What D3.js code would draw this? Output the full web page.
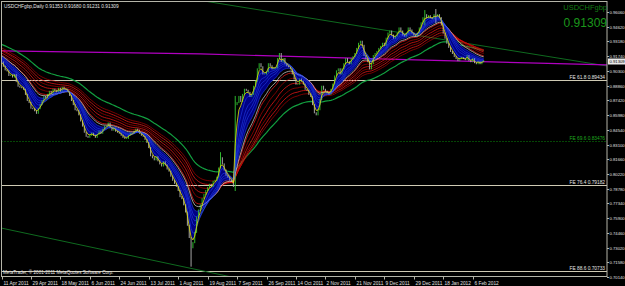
<!DOCTYPE html>
<html>
<head>
<meta charset="utf-8">
<script src="https://cdn.jsdelivr.net/npm/d3@7"></script>
<style>
  html, body { margin: 0; padding: 0; background: #000; }
  svg { display: block; font-family: 'Liberation Sans', Arial, sans-serif; }
</style>
</head>
<body>
<div id="app"></div>
<script>
// chart header
const symbol = 'USDCHFgbp'
const timeframe = 'Daily'
const headerOHLC = ['0.91353', '0.91680', '0.91231', '0.91309']
const lastPrice = 0.91309

// daily closes, bar 0 = 11 Apr 2011 (sunday bars included)
const closes = [
  0.9118, 0.9075, 0.9040, 0.9030, 0.8985, 0.8990, 0.8970, 0.8995, 0.8925, 0.8880,
  0.8870, 0.8865, 0.8850, 0.8800, 0.8740, 0.8720, 0.8665, 0.8660, 0.8640, 0.8615,
  0.8660, 0.8700, 0.8740, 0.8780, 0.8765, 0.8800, 0.8830, 0.8810, 0.8850, 0.8840,
  0.8825, 0.8860, 0.8830, 0.8870, 0.8855, 0.8850, 0.8830, 0.8790, 0.8740, 0.8700,
  0.8650, 0.8640, 0.8600, 0.8540, 0.8490, 0.8430, 0.8390, 0.8380, 0.8400, 0.8420,
  0.8400, 0.8380, 0.8410, 0.8440, 0.8420, 0.8460, 0.8490, 0.8490, 0.8520, 0.8480,
  0.8450, 0.8470, 0.8440, 0.8430, 0.8420, 0.8400, 0.8380, 0.8370, 0.8370, 0.8400,
  0.8420, 0.8420, 0.8440, 0.8460, 0.8450, 0.8420, 0.8400, 0.8390, 0.8360, 0.8330,
  0.8280, 0.8200, 0.8180, 0.8160, 0.8190, 0.8150, 0.8120, 0.8100, 0.8140, 0.8110,
  0.8070, 0.8050, 0.8000, 0.7960, 0.7930, 0.7900, 0.7860, 0.7800, 0.7780, 0.7720,
  0.7650, 0.7520, 0.7400, 0.7300, 0.7350, 0.7450, 0.7600, 0.7670, 0.7720, 0.7780,
  0.7820, 0.7860, 0.7890, 0.7920, 0.7900, 0.7950, 0.7960, 0.7990, 0.8080, 0.8180,
  0.8120, 0.8060, 0.8010, 0.7990, 0.7960, 0.7950, 0.7900, 0.8700, 0.8720, 0.8780,
  0.8730, 0.8800, 0.8850, 0.8840, 0.8820, 0.8780, 0.8800, 0.8880, 0.8930, 0.9050,
  0.9100, 0.9070, 0.9000, 0.9000, 0.9020, 0.9100, 0.9080, 0.9050, 0.9060, 0.9060,
  0.9150, 0.9200, 0.9120, 0.9150, 0.9100, 0.9080, 0.9070, 0.9050, 0.9000, 0.8950,
  0.8900, 0.8900, 0.8950, 0.8930, 0.8900, 0.8850, 0.8840, 0.8800, 0.8780, 0.8700,
  0.8620, 0.8600, 0.8650, 0.8750, 0.8880, 0.8850, 0.8830, 0.8820, 0.8800, 0.8850,
  0.8900, 0.8980, 0.9030, 0.9050, 0.9000, 0.9050, 0.9100, 0.9150, 0.9120, 0.9100,
  0.9150, 0.9170, 0.9200, 0.9250, 0.9300, 0.9320, 0.9280, 0.9180, 0.9150, 0.9120,
  0.9050, 0.9100, 0.9180, 0.9200, 0.9220, 0.9250, 0.9270, 0.9300, 0.9280, 0.9350,
  0.9400, 0.9420, 0.9380, 0.9350, 0.9370, 0.9400, 0.9450, 0.9420, 0.9380, 0.9370,
  0.9400, 0.9450, 0.9430, 0.9400, 0.9380, 0.9370, 0.9400, 0.9450, 0.9500, 0.9550,
  0.9580, 0.9550, 0.9570, 0.9550, 0.9540, 0.9580, 0.9560, 0.9580, 0.9550, 0.9480,
  0.9400, 0.9350, 0.9300, 0.9260, 0.9220, 0.9200, 0.9170, 0.9150, 0.9130, 0.9150,
  0.9160, 0.9150, 0.9140, 0.9180, 0.9130, 0.9120, 0.9150, 0.9110, 0.9100, 0.9120,
  0.9100, 0.9120, 0.91309
]

// notable wicks
const spikeBars = [103, 119, 127, 230, 236]
const spikeHighs = [0.7400, 0.8230, 0.8780, 0.9620, 0.9630]
const spikeLows = [0.7120, 0.8080, 0.7860, 0.9480, 0.9500]

// moving averages (EMA) and their value just before bar 0
const bluePeriods = [3, 5, 8, 10, 12, 15]
const blueSeeds = [0.9110, 0.9130, 0.9150, 0.9160, 0.9170, 0.9180]
const whitePeriod = 18
const whiteSeed = 0.9185
const redPeriods = [20, 25, 30, 35, 40, 45]
const redSeeds = [0.9170, 0.9190, 0.9210, 0.9230, 0.9240, 0.9260]
const greenPeriod = 60
const greenSeed = 0.9295

// drawn objects: trendlines as [bar, price] anchors
const magentaLine = [[0, 0.9226], [108, 0.9196], [225, 0.9137], [329, 0.9088]]
const upperTrend = [[102, 0.9737], [329, 0.9078]]
const lowerTrend = [[-1, 0.7496], [125, 0.7014]]

// fibo expansion levels
const feLevels = ['61.8', '69.6', '76.4', '88.6']
const fePrices = [0.89434, 0.83476, 0.79182, 0.70733]

// axes
const priceTicks = [0.96060, 0.94620, 0.93180, 0.91740, 0.90300, 0.88860, 0.87420, 0.85980,
  0.84540, 0.83100, 0.81660, 0.80220, 0.78780, 0.77340, 0.75900, 0.74460, 0.73020, 0.71580, 0.70140]
const dateLabels = ['11 Apr 2011', '29 Apr 2011', '18 May 2011', '6 Jun 2011', '24 Jun 2011',
  '13 Jul 2011', '1 Aug 2011', '19 Aug 2011', '7 Sep 2011', '26 Sep 2011', '14 Oct 2011',
  '2 Nov 2011', '21 Nov 2011', '9 Dec 2011', '29 Dec 2011', '18 Jan 2012', '6 Feb 2012']
const barsPerLabel = 16
const visibleBars = 329

const W = 625, H = 286
const plot = { left: 1.5, top: 1.5, right: 607, bottom: 276.5 }

const svg = d3.select('#app').append('svg').attr('width', W).attr('height', H)
svg.append('rect').attr('width', W).attr('height', H).attr('fill', '#000')

const x = d3.scaleLinear().domain([0, visibleBars]).range([plot.left, plot.right])
const y = d3.scaleLinear()
  .domain([priceTicks[priceTicks.length - 1], priceTicks[0]])
  .range([277, 12])

svg.append('clipPath').attr('id', 'clip')
  .append('rect')
  .attr('x', plot.left).attr('y', plot.top)
  .attr('width', plot.right - plot.left).attr('height', plot.bottom - plot.top)

const g = svg.append('g').attr('clip-path', 'url(#clip)')

// candles
const bars = closes.map((c, i) => {
  const o = i ? closes[i - 1] : c
  let hi = Math.max(o, c), lo = Math.min(o, c)
  const k = spikeBars.indexOf(i)
  if (k >= 0) { hi = Math.max(hi, spikeHighs[k]); lo = Math.min(lo, spikeLows[k]) }
  return { i, o, c, hi, lo }
})

function ema(period, seed) {
  const k = 2 / (period + 1)
  let v = seed
  return closes.map((c) => (v = v + k * (c - v)))
}

const blue = bluePeriods.map((p, j) => ema(p, blueSeeds[j]))
const white = ema(whitePeriod, whiteSeed)
const red = redPeriods.map((p, j) => ema(p, redSeeds[j]))
const green = ema(greenPeriod, greenSeed)

const line = d3.line().x((d, i) => x(i)).y((d) => y(d))
const anchorLine = d3.line().x((d) => x(d[0])).y((d) => y(d[1]))

// fibo lines
const feStyle = [
  { stroke: '#cfcab4', dash: null, text: '#e6e6e6' },
  { stroke: '#0a8a0a', dash: '1,2', text: '#1faa1f' },
  { stroke: '#cfcab4', dash: null, text: '#e6e6e6' },
  { stroke: '#cfcab4', dash: null, text: '#e6e6e6' }
]
fePrices.forEach((p, j) => {
  g.append('line')
    .attr('x1', plot.left).attr('x2', plot.right)
    .attr('y1', Math.round(y(p)) + 0.5).attr('y2', Math.round(y(p)) + 0.5)
    .attr('stroke', feStyle[j].stroke)
    .attr('stroke-width', 1)
    .attr('stroke-dasharray', feStyle[j].dash)
  g.append('text')
    .attr('x', plot.right - 2).attr('y', Math.round(y(p)) - 1)
    .attr('text-anchor', 'end')
    .attr('font-size', 4.8)
    .attr('fill', feStyle[j].text)
    .text(`FE ${feLevels[j]} ${p.toFixed(5)}`)
})

// trendlines
g.append('path').datum(upperTrend).attr('d', anchorLine)
  .attr('fill', 'none').attr('stroke', '#0f6a1f').attr('stroke-width', 1)
g.append('path').datum(lowerTrend).attr('d', anchorLine)
  .attr('fill', 'none').attr('stroke', '#0f6a1f').attr('stroke-width', 1)
g.append('path').datum(magentaLine).attr('d', anchorLine)
  .attr('fill', 'none').attr('stroke', '#b000c0').attr('stroke-width', 1.2)

// slow MAs
g.append('path').datum(green).attr('d', line)
  .attr('fill', 'none').attr('stroke', '#12a040').attr('stroke-width', 1.2)
red.forEach((r, j) => {
  g.append('path').datum(r).attr('d', line)
    .attr('fill', 'none').attr('stroke', j % 2 ? '#b00000' : '#ff1a1a').attr('stroke-width', 0.7)
})

// blue ribbon fill
g.append('path').datum(blue[0])
  .attr('d', d3.area().x((d, i) => x(i)).y0((d) => y(d)).y1((d, i) => y(blue[blue.length - 1][i])))
  .attr('fill', '#000084')

// candles
g.append('g').selectAll('line').data(bars).join('line')
  .attr('x1', (d) => x(d.i)).attr('x2', (d) => x(d.i))
  .attr('y1', (d) => y(d.hi) - 0.5).attr('y2', (d) => y(d.lo) + 0.5)
  .attr('stroke', (d) => (d.c >= d.o ? '#33cc33' : '#b8b8b8'))
  .attr('stroke-width', 0.9)

g.append('path').datum(white).attr('d', line)
  .attr('fill', 'none').attr('stroke', '#d8d8d8').attr('stroke-width', 0.7)
blue.slice(1).forEach((b) => {
  g.append('path').datum(b).attr('d', line)
    .attr('fill', 'none').attr('stroke', '#2a4cff').attr('stroke-width', 0.5)
})
g.append('path').datum(blue[0]).attr('d', line)
  .attr('fill', 'none').attr('stroke', '#e6e600').attr('stroke-width', 0.8)

// frame
svg.append('rect')
  .attr('x', plot.left).attr('y', plot.top)
  .attr('width', plot.right - plot.left).attr('height', plot.bottom - plot.top)
  .attr('fill', 'none').attr('stroke', '#b4b4a8').attr('stroke-width', 1)

// price axis
const yAxis = svg.append('g')
priceTicks.forEach((p) => {
  const yy = Math.round(y(p)) + 0.5
  yAxis.append('line').attr('x1', plot.right).attr('x2', plot.right + 2)
    .attr('y1', yy).attr('y2', yy).attr('stroke', '#b4b4a8')
  yAxis.append('text').attr('x', plot.right + 2.5).attr('y', yy + 1.5)
    .attr('font-size', 4.2).attr('fill', '#e0e0e0').text(p.toFixed(5))
})
const lp = Math.round(y(lastPrice)) + 0.5
yAxis.append('rect').attr('x', plot.right + 1).attr('y', lp - 3)
  .attr('width', 17).attr('height', 6).attr('fill', '#e8e8e8')
yAxis.append('text').attr('x', plot.right + 2.5).attr('y', lp + 1.5)
  .attr('font-size', 4.2).attr('fill', '#000').text(lastPrice.toFixed(5))

// time axis
const xAxis = svg.append('g')
dateLabels.forEach((lab, j) => {
  const xx = Math.round(x(j * barsPerLabel)) + 0.5
  xAxis.append('line').attr('x1', xx).attr('x2', xx)
    .attr('y1', plot.bottom).attr('y2', plot.bottom + 3).attr('stroke', '#b4b4a8')
  xAxis.append('text').attr('x', xx + 1).attr('y', 284.5)
    .attr('font-size', 4.8).attr('fill', '#e0e0e0').text(lab)
})

// texts
svg.append('text').attr('x', 4).attr('y', 8).attr('font-size', 4.8).attr('fill', '#e6e6e6')
  .text(`${symbol},${timeframe}  ${headerOHLC.join(' ')}`)
svg.append('text').attr('x', 3).attr('y', 274).attr('font-size', 4.6).attr('fill', '#e6e6e6')
  .text('MetaTrader, \u00a9 2001-2011 MetaQuotes Software Corp.')
svg.append('text').attr('x', plot.right).attr('y', 10).attr('text-anchor', 'end')
  .attr('font-size', 7.5).attr('fill', '#137a13').text(symbol)
svg.append('text').attr('x', plot.right).attr('y', 27).attr('text-anchor', 'end')
  .attr('font-size', 12).attr('fill', '#1b961b').text(lastPrice.toFixed(5))
</script>
</body>
</html>
